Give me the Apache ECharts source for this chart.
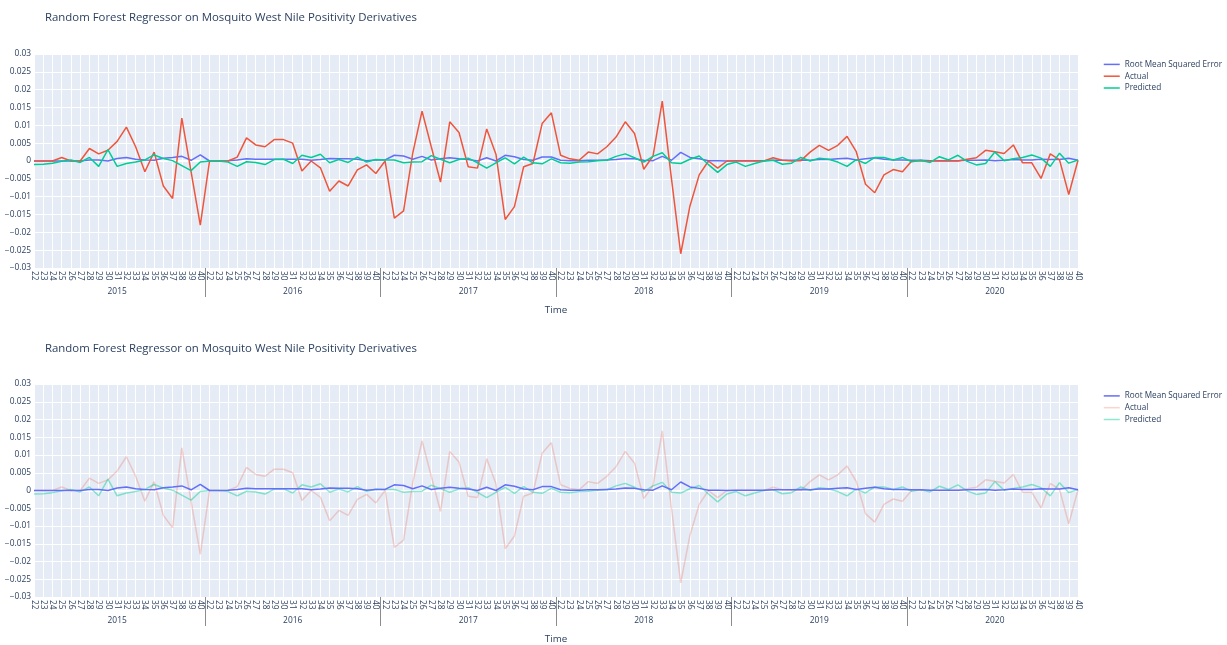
<!DOCTYPE html>
<html>
<head>
<meta charset="utf-8">
<script src="https://cdn.jsdelivr.net/npm/echarts@6/dist/echarts.min.js"></script>
<style>
html,body{margin:0;padding:0;background:#fff;}
#chart{width:1227px;height:645px;}
</style>
</head>
<body>
<div id="chart"></div>
<script>
const chartTitle = 'Random Forest Regressor on Mosquito West Nile Positivity Derivatives';
const years = ['2015','2016','2017','2018','2019','2020'];
const weeks = ['22','23','24','25','26','27','28','29','30','31','32','33','34','35','36','37','38','39','40'];
const seriesNames = ['Root Mean Squared Error','Actual','Predicted'];

const rmse = [
  0,0,0,0,0,0,0.0003,0.0003,0,0.0007,0.001,0.0005,0.0003,0.0002,0.0008,0.001,0.0013,0.0002,0.0017,
  0,0,0.0001,0.0003,0.0006,0.0005,0.0005,0.0005,0.0005,0.0005,0.0005,0.0002,0.0004,0.0007,0.0006,0.0006,0.0005,0.0001,0.0003,
  0.0003,0.0016,0.0014,0.0005,0.0013,0.0003,0.0006,0.0009,0.0006,0.0004,0,0.0009,0,0.0016,0.0012,0.0004,0.0002,0.0011,0.0011,
  0.0002,0.0001,0.0001,0.0002,0.0002,0.0003,0.0004,0.0007,0.0006,0.0002,0.0001,0.0013,0.0002,0.0024,0.001,0.0006,0.0001,0.0001,0,
  0.0001,0.0001,0.0001,0.0001,0.0002,0.0002,0.0002,0.0003,0.0002,0.0004,0.0004,0.0006,0.0008,0.0003,0.0006,0.0009,0.0005,0.0003,0.0003,
  0.0002,0.0002,0.0001,0.0001,0.0001,0.0001,0.0002,0.0002,0.0003,0.0001,0.0002,0.0004,0.0003,0.0003,0.0005,0.0004,0.0004,0.0008,0.0002
];
const actual = [
  0,0,0,0.001,0,0,0.0035,0.002,0.003,0.0055,0.0095,0.004,-0.003,0.0025,-0.007,-0.0105,0.012,-0.003,-0.018,
  0,0,0,0.0011,0.0065,0.0045,0.004,0.006,0.006,0.005,-0.0028,0,-0.0019,-0.0085,-0.0056,-0.007,-0.0025,-0.0011,-0.0035,
  0,-0.016,-0.014,0.0023,0.014,0.004,-0.0059,0.011,0.008,-0.0016,-0.002,0.009,0.0019,-0.0164,-0.0128,-0.0016,-0.0007,0.0105,0.0135,
  0.0016,0.0006,0.0002,0.0025,0.002,0.004,0.0067,0.011,0.0077,-0.0023,0.0014,0.0168,-0.005,-0.026,-0.0126,-0.0039,0,-0.002,0,
  0,0,0,0,0.0009,0.0002,0,0.0001,0.0025,0.0044,0.003,0.0044,0.0069,0.0026,-0.0065,-0.0089,-0.0039,-0.0024,-0.003,
  0,0,0,0,0,0,0.0005,0.0009,0.003,0.0026,0.0021,0.0045,-0.0005,-0.0005,-0.0049,0.002,0.0003,-0.0094,0.0002
];
const predicted = [
  -0.001,-0.0009,-0.0006,-0.0001,0.0003,-0.0004,0.001,-0.0015,0.0032,-0.0015,-0.0007,-0.0003,0.0003,0.0017,0.0007,0.0001,-0.0013,-0.0027,-0.0003,
  0,0,-0.0003,-0.0015,-0.0002,-0.0004,-0.001,0.0004,0.0005,-0.0007,0.0016,0.001,0.0019,-0.0005,0.0004,-0.0004,0.0011,-0.0003,0.0004,
  0.0003,0.0003,-0.0005,-0.0003,-0.0002,0.0015,0.0005,-0.0005,0.0004,0.0008,-0.0005,-0.002,-0.0005,0.0009,-0.0008,0.0011,-0.0005,-0.0008,0.0006,
  -0.0005,-0.0006,-0.0003,-0.0002,0.0001,0.0002,0.0013,0.002,0.0009,-0.0003,0.0013,0.0023,-0.0005,-0.0007,0.0005,0.0014,-0.001,-0.0032,-0.001,
  -0.0003,-0.0015,-0.0007,0,0.0002,-0.0009,-0.0006,0.001,0,0.0008,0.0005,-0.0003,-0.0015,0.0004,-0.0007,0.001,0.001,0.0003,0.001,
  -0.0002,0.0002,-0.0004,0.0012,0.0003,0.0016,-0.0001,-0.0011,-0.0007,0.0025,0.0001,0.0006,0.001,0.0017,0.0008,-0.0015,0.0022,-0.0006,0.0003
];
const yTicks = { min: -0.03, max: 0.03, interval: 0.005 };

// derived category structure
const categories = [];
years.forEach(y => weeks.forEach(w => categories.push(y + '|' + w)));
const nW = weeks.length;
const yearCenters = years.map((y, i) => i * nW + (nW - 1) / 2);
const dividers = years.slice(1).map((y, i) => (i + 1) * nW - 0.5);

const COLORS = ['#636EFA', '#EF553B', '#00CC96'];
const TXT = '#2a3f5f';
const FONT = '"Open Sans", Verdana, Arial, sans-serif';
const FS = 8.4;
const LW = 1.5;

const grids = [
  { left: 34, top: 54, width: 1044, height: 214 },
  { left: 34, top: 384, width: 1044, height: 213 }
];

function catAxis(gi) {
  return {
    type: 'category', gridIndex: gi, position: 'bottom', data: categories, boundaryGap: false,
    axisLine: { show: false }, axisTick: { show: false },
    axisLabel: { interval: 0, rotate: -90, margin: 3, fontSize: FS, color: TXT, fontFamily: FONT,
      formatter: v => v.split('|')[1] },
    splitLine: { show: true, interval: 0, lineStyle: { color: '#ffffff', width: 1 } }
  };
}
function groupAxis(gi) {
  return {
    type: 'value', gridIndex: gi, position: 'bottom', min: 0, max: categories.length - 1,
    axisLine: { show: false },
    axisTick: { show: true, customValues: dividers, length: 29, lineStyle: { color: '#8c8c8c', width: 1 } },
    axisLabel: { customValues: yearCenters, margin: 20, fontSize: FS, color: TXT, fontFamily: FONT,
      formatter: v => years[yearCenters.indexOf(v)] },
    splitLine: { show: false },
    name: 'Time', nameLocation: 'middle', nameGap: 37,
    nameTextStyle: { fontSize: 9.8, color: TXT, fontFamily: FONT }
  };
}
function valAxis(gi) {
  return {
    type: 'value', gridIndex: gi, min: yTicks.min, max: yTicks.max, interval: yTicks.interval,
    axisLine: { show: false }, axisTick: { show: false },
    axisLabel: { margin: 3, fontSize: FS, color: TXT, fontFamily: FONT,
      formatter: v => v === 0 ? '0' : (v < 0 ? '\u2212' : '') + String(+Math.abs(v).toFixed(4)) },
    splitLine: { lineStyle: { color: '#ffffff', width: 1 } }
  };
}
function zeroLine(gi) {
  return {
    type: 'line', xAxisIndex: gi * 2, yAxisIndex: gi, data: [], z: 1, silent: true,
    markLine: { z: 1, silent: true, symbol: ['none', 'none'], label: { show: false }, animation: false,
      lineStyle: { color: '#ffffff', width: 2, type: 'solid' }, emphasis: { disabled: true },
      data: [{ yAxis: 0 }] }
  };
}
function lineSeries(gi, idx, values, opacity, z) {
  return {
    type: 'line', name: seriesNames[idx], xAxisIndex: gi * 2, yAxisIndex: gi, data: values,
    symbol: 'none', z: z, silent: true,
    lineStyle: { color: COLORS[idx], width: LW, opacity: opacity },
    itemStyle: { color: COLORS[idx] },
    emphasis: { disabled: true }
  };
}
function legend(gi, top, opacities) {
  return {
    orient: 'vertical', left: 1103, top: top, padding: 0, itemWidth: 16, itemHeight: 11.8, itemGap: 0,
    selectedMode: false,
    textStyle: { fontSize: 8.2, color: TXT, fontFamily: FONT, lineHeight: 11.8 },
    data: seriesNames.map((n, i) => ({
      name: n,
      itemStyle: { opacity: 0 },
      lineStyle: { color: COLORS[i], width: LW, opacity: opacities[i] }
    }))
  };
}

const option = {
  animation: false,
  backgroundColor: '#ffffff',
  title: [
    { text: chartTitle, left: 45, top: 11, padding: 0, textStyle: { fontSize: 11.4, fontWeight: 'normal', color: TXT, fontFamily: FONT, lineHeight: 14 } },
    { text: chartTitle, left: 45, top: 342, padding: 0, textStyle: { fontSize: 11.4, fontWeight: 'normal', color: TXT, fontFamily: FONT, lineHeight: 14 } }
  ],
  grid: grids.map(g => Object.assign({ show: true, backgroundColor: '#E5ECF6', borderWidth: 0 }, g)),
  xAxis: [catAxis(0), groupAxis(0), catAxis(1), groupAxis(1)],
  yAxis: [valAxis(0), valAxis(1)],
  legend: [legend(0, 58.5, [1, 1, 1]), legend(1, 390, [1, 0.25, 0.45])],
  series: [
    zeroLine(0),
    lineSeries(0, 0, rmse, 1, 2),
    lineSeries(0, 1, actual, 1, 3),
    lineSeries(0, 2, predicted, 1, 4),
    zeroLine(1),
    lineSeries(1, 1, actual, 0.25, 2),
    lineSeries(1, 2, predicted, 0.45, 3),
    lineSeries(1, 0, rmse, 1, 4)
  ]
};

const chart = echarts.init(document.getElementById('chart'), null, { renderer: 'canvas' });
chart.setOption(option);
</script>
</body>
</html>
